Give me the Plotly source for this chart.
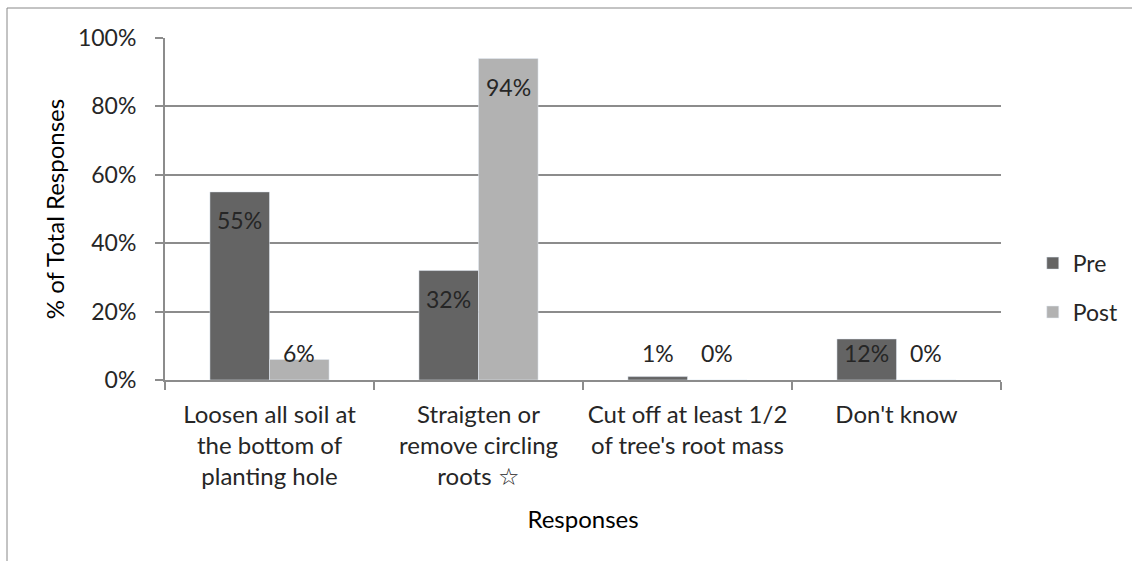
import plotly.graph_objects as go

categories = [
    "Loosen all soil at<br>the bottom of<br>planting hole",
    "Straigten or<br>remove circling<br>roots ☆",
    "Cut off at least 1/2<br>of tree's root mass",
    "Don't know",
]
pre_values = [0.55, 0.32, 0.01, 0.12]
post_values = [0.06, 0.94, 0.00, 0.00]
y_ticks = [0, 0.2, 0.4, 0.6, 0.8, 1.0]

PRE_COLOR = "#646464"
POST_COLOR = "#b2b2b2"
GRID = "#8c8c8c"
FONT = "Lato"
TXT = "#262626"
FS = 23

W, H = 1132, 561
ML, MR, MT, MB = 165, 131, 38, 181
plot_w = W - ML - MR
bargap = 0.43

fig = go.Figure()
fig.add_trace(go.Bar(name="Pre", x=categories, y=pre_values, marker_color=PRE_COLOR,
                     legendgroup="pre"))
fig.add_trace(go.Bar(name="Post", x=categories, y=post_values, marker_color=POST_COLOR,
                     legendgroup="post"))

# data labels (Excel "inside end" style)
bar_px = plot_w / len(categories) * (1 - bargap) / 2
annotations = []
for vals, sign in ((pre_values, -1), (post_values, 1)):
    for c, v in zip(categories, vals):
        annotations.append(dict(
            x=c, y=max(v - 0.082, 0.08), xref="x", yref="y",
            text=f"{round(v*100)}%", showarrow=False,
            xshift=sign * bar_px / 2, yanchor="middle",
            font=dict(family=FONT, size=FS, color=TXT),
        ))

fig.update_layout(
    width=W, height=H,
    margin=dict(l=ML, r=MR, t=MT, b=MB, autoexpand=False),
    paper_bgcolor="white", plot_bgcolor="white",
    barmode="group", bargap=bargap, bargroupgap=0,
    font=dict(family=FONT, size=FS, color=TXT),
    legend=dict(x=1.038, y=0.27, xanchor="left", yanchor="middle",
                tracegroupgap=16, font=dict(family=FONT, size=FS, color=TXT),
                itemwidth=30, bgcolor="rgba(0,0,0,0)"),
    annotations=annotations,
    shapes=[dict(type="rect", xref="paper", yref="paper",
                 x0=(7 - ML) / plot_w, x1=1.3, y0=-0.8, y1=(H - MB - 8) / (H - MT - MB),
                 line=dict(color="#888888", width=1), fillcolor="rgba(0,0,0,0)", layer="below")],
)
fig.update_xaxes(
    showline=True, linecolor=GRID, linewidth=2,
    ticks="outside", tickson="boundaries", ticklen=8, tickcolor=GRID, tickwidth=2,
    showgrid=False, ticklabelstandoff=12, tickangle=0,
    title=dict(text="Responses", font=dict(family=FONT, size=24, color="black"), standoff=22),
    tickfont=dict(family=FONT, size=24, color=TXT),
)
fig.update_yaxes(
    range=[0, 1], tickvals=y_ticks, tickformat=".0%",
    showline=True, linecolor=GRID, linewidth=2,
    ticks="outside", ticklen=8, tickcolor=GRID, tickwidth=2,
    showgrid=True, gridcolor=GRID, gridwidth=2, zeroline=False, ticklabelstandoff=14,
    title=dict(text="% of Total Responses", font=dict(family=FONT, size=24, color="black"), standoff=7),
    tickfont=dict(family=FONT, size=FS, color=TXT),
)

fig.write_html("out.html", config={"displayModeBar": False},
               post_script="document.body.style.margin='0';")
